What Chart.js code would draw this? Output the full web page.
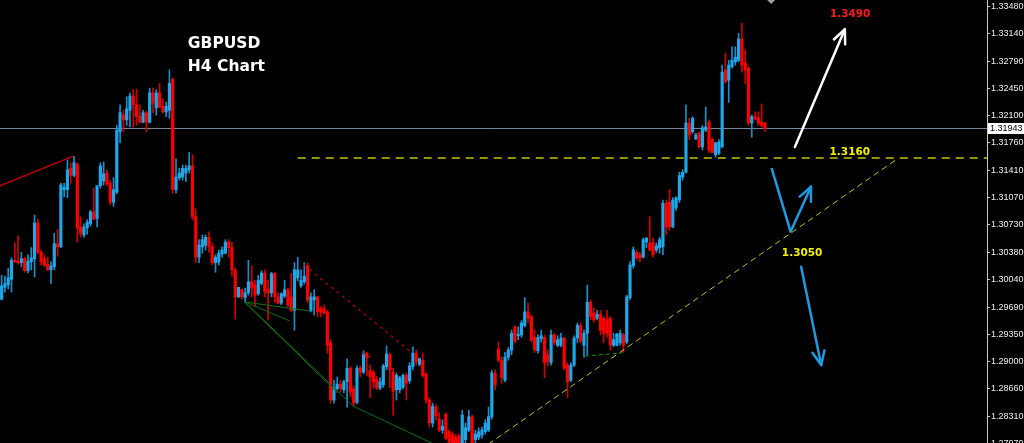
<!DOCTYPE html>
<html><head><meta charset="utf-8">
<script src="https://cdn.jsdelivr.net/npm/chart.js@4.4.1/dist/chart.umd.min.js"></script>
<style>
html,body{margin:0;padding:0;background:#000;overflow:hidden;width:1024px;height:443px}
#wrap{position:relative;width:1024px;height:450px}
</style></head><body><div id="wrap"><canvas id="c"></canvas></div>
<script>
// ---- GBPUSD H4 candles ----
const openP = [
1.2979,1.2994,1.2997,1.3004,1.3028,1.3027,1.3025,1.3030,1.3015,1.3026,
1.3030,1.3075,1.3038,1.3030,1.3023,1.3016,1.3020,1.3049,1.3045,1.3117,
1.3117,1.3144,1.3135,1.3149,1.3070,1.3060,1.3069,1.3074,1.3089,1.3081,
1.3122,1.3128,1.3138,1.3125,1.3101,1.3114,1.3190,1.3211,1.3205,1.3217,
1.3235,1.3224,1.3209,1.3202,1.3214,1.3202,1.3239,1.3220,1.3239,1.3222,
1.3215,1.3217,1.3256,1.3117,1.3132,1.3133,1.3138,1.3142,1.3147,1.3083,
1.3032,1.3045,1.3047,1.3057,1.3045,1.3025,1.3026,1.3036,1.3037,1.3051,
1.3044,1.3016,1.2982,1.2991,1.2981,1.2987,1.3001,1.2997,1.2986,1.2999,
1.3012,1.2992,1.2987,1.3012,1.2982,1.2974,1.2983,1.2991,1.2982,1.2965,
1.3006,1.2996,1.3001,1.3021,1.2965,1.2978,1.2982,1.2967,1.2967,1.2963,
1.2924,1.2852,1.2866,1.2872,1.2865,1.2875,1.2892,1.2866,1.2849,1.2892,
1.2887,1.2911,1.2889,1.2887,1.2878,1.2867,1.2871,1.2894,1.2909,1.2887,
1.2865,1.2865,1.2868,1.2883,1.2876,1.2894,1.2911,1.2897,1.2902,1.2885,
1.2852,1.2823,1.2843,1.2828,1.2814,1.2834,1.2812,1.2809,1.2805,1.2807,
1.2798,1.2802,1.2814,1.2831,1.2802,1.2805,1.2808,1.2812,1.2814,1.2831,
1.2886,1.2916,1.2902,1.2877,1.2906,1.2915,1.2944,1.2933,1.2934,1.2946,
1.2963,1.2957,1.2931,1.2914,1.2929,1.2931,1.2909,1.2899,1.2934,1.2921,
1.2921,1.2930,1.2896,1.2877,1.2896,1.2930,1.2946,1.2921,1.2936,1.2975,
1.2962,1.2955,1.2960,1.2955,1.2953,1.2955,1.2921,1.2921,1.2924,1.2934,
1.2925,1.2981,1.3021,1.3038,1.3035,1.3032,1.3051,1.3050,1.3050,1.3041,
1.3044,1.3045,1.3100,1.3101,1.3070,1.3094,1.3104,1.3133,1.3139,1.3201,
1.3190,1.3181,1.3188,1.3171,1.3192,1.3202,1.3180,1.3161,1.3163,1.3171,
1.3268,1.3255,1.3272,1.3278,1.3280,1.3307,1.3277,1.3270,1.3201,1.3209,
1.3207,1.3202,1.3201];
const highP = [
1.3009,1.3008,1.3018,1.3031,1.3050,1.3059,1.3038,1.3032,1.3035,1.3044,
1.3085,1.3080,1.3041,1.3035,1.3032,1.3026,1.3062,1.3067,1.3125,1.3125,
1.3154,1.3151,1.3159,1.3151,1.3083,1.3074,1.3079,1.3091,1.3119,1.3122,
1.3151,1.3152,1.3142,1.3129,1.3132,1.3198,1.3224,1.3217,1.3234,1.3239,
1.3243,1.3244,1.3224,1.3217,1.3216,1.3245,1.3245,1.3243,1.3251,1.3231,
1.3227,1.3268,1.3258,1.3156,1.3144,1.3148,1.3148,1.3164,1.3161,1.3093,
1.3054,1.3060,1.3060,1.3064,1.3050,1.3035,1.3041,1.3045,1.3054,1.3054,
1.3051,1.3018,1.2994,1.2992,1.2993,1.3028,1.3021,1.3003,1.3009,1.3015,
1.3016,1.3003,1.3013,1.3012,1.2987,1.2987,1.3003,1.2993,1.3012,1.3025,
1.3032,1.3016,1.3025,1.3025,1.2987,1.2991,1.2983,1.2970,1.2972,1.2965,
1.2928,1.2877,1.2881,1.2877,1.2877,1.2904,1.2894,1.2870,1.2895,1.2895,
1.2914,1.2912,1.2896,1.2890,1.2882,1.2880,1.2897,1.2920,1.2911,1.2892,
1.2886,1.2882,1.2885,1.2886,1.2899,1.2919,1.2915,1.2905,1.2911,1.2886,
1.2855,1.2848,1.2846,1.2836,1.2827,1.2836,1.2814,1.2812,1.2809,1.2809,
1.2839,1.2823,1.2839,1.2833,1.2814,1.2817,1.2818,1.2827,1.2843,1.2889,
1.2890,1.2925,1.2906,1.2912,1.2918,1.2940,1.2945,1.2944,1.2952,1.2981,
1.2974,1.2959,1.2940,1.2934,1.2940,1.2934,1.2915,1.2940,1.2936,1.2933,
1.2936,1.2931,1.2899,1.2899,1.2933,1.2949,1.2949,1.2940,1.2997,1.2978,
1.2968,1.2965,1.2965,1.2957,1.2965,1.2957,1.2936,1.2936,1.2940,1.2936,
1.2984,1.3026,1.3045,1.3041,1.3038,1.3056,1.3057,1.3083,1.3056,1.3050,
1.3057,1.3104,1.3104,1.3117,1.3107,1.3108,1.3139,1.3142,1.3224,1.3207,
1.3209,1.3188,1.3190,1.3198,1.3221,1.3205,1.3182,1.3177,1.3180,1.3274,
1.3289,1.3280,1.3297,1.3297,1.3314,1.3327,1.3293,1.3272,1.3211,1.3215,
1.3215,1.3225,1.3202];
const lowP = [
1.2978,1.2988,1.2992,1.2988,1.3025,1.3023,1.3020,1.3013,1.3012,1.3016,
1.3007,1.3036,1.3022,1.3020,1.3015,1.2999,1.3016,1.3033,1.3044,1.3108,
1.3107,1.3125,1.3133,1.3051,1.3057,1.3057,1.3061,1.3071,1.3079,1.3070,
1.3119,1.3123,1.3122,1.3098,1.3096,1.3112,1.3176,1.3190,1.3198,1.3196,
1.3196,1.3198,1.3201,1.3201,1.3190,1.3201,1.3214,1.3211,1.3220,1.3214,
1.3209,1.3207,1.3113,1.3113,1.3129,1.3129,1.3127,1.3138,1.3079,1.3025,
1.3025,1.3037,1.3041,1.3038,1.3022,1.3013,1.3022,1.3032,1.3036,1.3032,
1.3008,1.2954,1.2981,1.2979,1.2975,1.2984,1.2982,1.2970,1.2984,1.2997,
1.2982,1.2953,1.2982,1.2975,1.2973,1.2972,1.2981,1.2969,1.2963,1.2940,
1.3002,1.2994,1.2998,1.2975,1.2963,1.2959,1.2957,1.2957,1.2960,1.2911,
1.2848,1.2848,1.2865,1.2862,1.2861,1.2843,1.2856,1.2844,1.2847,1.2881,
1.2885,1.2883,1.2855,1.2867,1.2865,1.2865,1.2868,1.2890,1.2868,1.2833,
1.2852,1.2861,1.2866,1.2852,1.2873,1.2890,1.2896,1.2895,1.2881,1.2848,
1.2818,1.2818,1.2827,1.2812,1.2810,1.2802,1.2797,1.2793,1.2792,1.2790,
1.2793,1.2794,1.2812,1.2793,1.2797,1.2802,1.2804,1.2809,1.2812,1.2828,
1.2865,1.2900,1.2873,1.2875,1.2902,1.2909,1.2924,1.2928,1.2931,1.2944,
1.2949,1.2925,1.2912,1.2911,1.2925,1.2880,1.2895,1.2896,1.2921,1.2919,
1.2919,1.2890,1.2855,1.2875,1.2894,1.2924,1.2924,1.2906,1.2909,1.2953,
1.2950,1.2953,1.2934,1.2924,1.2931,1.2915,1.2919,1.2920,1.2921,1.2912,
1.2923,1.2978,1.3018,1.3028,1.3026,1.3031,1.3044,1.3040,1.3032,1.3038,
1.3037,1.3035,1.3060,1.3066,1.3069,1.3091,1.3101,1.3129,1.3138,1.3180,
1.3188,1.3180,1.3170,1.3167,1.3190,1.3164,1.3163,1.3158,1.3161,1.3170,
1.3251,1.3227,1.3270,1.3274,1.3278,1.3265,1.3251,1.3198,1.3183,1.3205,
1.3198,1.3196,1.3190];
const closeP = [
1.2996,1.2999,1.3006,1.3028,1.3026,1.3025,1.3030,1.3015,1.3027,1.3031,
1.3075,1.3038,1.3026,1.3022,1.3016,1.3021,1.3049,1.3045,1.3123,1.3120,
1.3142,1.3135,1.3151,1.3069,1.3062,1.3070,1.3076,1.3089,1.3080,1.3122,
1.3147,1.3137,1.3125,1.3101,1.3117,1.3192,1.3214,1.3205,1.3219,1.3235,
1.3224,1.3209,1.3202,1.3214,1.3202,1.3239,1.3226,1.3239,1.3221,1.3215,
1.3222,1.3251,1.3117,1.3133,1.3138,1.3144,1.3144,1.3147,1.3083,1.3032,
1.3047,1.3054,1.3057,1.3045,1.3025,1.3032,1.3037,1.3041,1.3051,1.3044,
1.3016,1.2982,1.2994,1.2982,1.2987,1.3001,1.2993,1.2984,1.3003,1.3012,
1.2988,1.2987,1.3011,1.2982,1.2974,1.2986,1.2991,1.2972,1.2965,1.3016,
1.3016,1.3003,1.3008,1.2978,1.2982,1.2982,1.2963,1.2963,1.2962,1.2921,
1.2852,1.2868,1.2872,1.2867,1.2875,1.2892,1.2862,1.2848,1.2892,1.2887,
1.2911,1.2905,1.2881,1.2875,1.2867,1.2875,1.2895,1.2910,1.2890,1.2863,
1.2883,1.2880,1.2883,1.2873,1.2895,1.2911,1.2900,1.2904,1.2883,1.2852,
1.2823,1.2844,1.2832,1.2814,1.2819,1.2804,1.2799,1.2798,1.2797,1.2795,
1.2833,1.2817,1.2831,1.2798,1.2809,1.2812,1.2814,1.2823,1.2831,1.2886,
1.2871,1.2902,1.2880,1.2906,1.2915,1.2936,1.2926,1.2935,1.2949,1.2963,
1.2955,1.2928,1.2915,1.2931,1.2933,1.2899,1.2901,1.2934,1.2924,1.2928,
1.2930,1.2892,1.2875,1.2896,1.2930,1.2946,1.2926,1.2936,1.2975,1.2957,
1.2953,1.2960,1.2940,1.2936,1.2936,1.2921,1.2928,1.2935,1.2936,1.2921,
1.2982,1.3022,1.3041,1.3031,1.3031,1.3054,1.3056,1.3041,1.3035,1.3046,
1.3054,1.3100,1.3070,1.3070,1.3104,1.3107,1.3135,1.3139,1.3201,1.3186,
1.3207,1.3186,1.3171,1.3195,1.3196,1.3167,1.3164,1.3176,1.3177,1.3265,
1.3253,1.3274,1.3280,1.3284,1.3307,1.3274,1.3268,1.3201,1.3209,1.3206,
1.3201,1.3198,1.3194];

// price axis labels (as printed on the right scale)
const priceTicks = [1.33480,1.33140,1.32790,1.32450,1.32100,1.31760,1.31410,1.31070,
  1.30730,1.30380,1.30040,1.29690,1.29350,1.29000,1.28660,1.28310,1.27970];
const lastPrice = 1.31943;
const TOTAL_SLOTS = 300;            // candle slots across the plot (empty on the right)
const Y_MIN = 1.2789, Y_MAX = 1.3356;

// ---- drawn objects, in (slot index, price) ----
const levelLine    = {from: 90, to: 300, price: 1.3157};
const trendLine    = [[145.4, 1.2789], [272.2, 1.31557]];
const redTrend     = [[-1.1, 1.3121], [21.8, 1.31594]];
const redDotted    = [[[91.9, 1.30221], [124.1, 1.29137]], [[109.5, 1.29112], [112.6, 1.29049]]];
const greenLines   = [
  [[74.0, 1.29755], [93.7, 1.29641]],
  [[74.0, 1.29755], [87.6, 1.29515]],
  [[74.0, 1.29755], [106.8, 1.28444], [133.2, 1.27928]],
  [[74.0, 1.29745], [102.2, 1.28608]]];
const greenDashed  = [[177.3, 1.29074], [188.6, 1.29112]];
const whiteArrow   = [[241.1, 1.31708], [256.3, 1.33191]];
const blueArrowUp  = [[234.1, 1.31431], [239.8, 1.30641], [246.0, 1.31208]];
const blueArrowDn  = [[243.0, 1.30200], [249.1, 1.28961]];
const marker       = [233.9, 1.33573];
const texts = [
  {t: 'GBPUSD',   at: [56.6, 1.32955],  color: '#ffffff', font: 'bold 15.5px "DejaVu Sans", Verdana, sans-serif', align: 'left'},
  {t: 'H4 Chart', at: [56.6, 1.32665],  color: '#ffffff', font: 'bold 15.5px "DejaVu Sans", Verdana, sans-serif', align: 'left'},
  {t: '1.3490',   at: [257.9, 1.33342], color: '#ff1a1a', font: 'bold 10.5px "DejaVu Sans", Verdana, sans-serif', align: 'center'},
  {t: '1.3160',   at: [257.8, 1.31607], color: '#f2f200', font: 'bold 10.5px "DejaVu Sans", Verdana, sans-serif', align: 'center'},
  {t: '1.3050',   at: [243.3, 1.30334], color: '#f2f200', font: 'bold 10.5px "DejaVu Sans", Verdana, sans-serif', align: 'center'}
];

const BULL = '#1ea8ea', BEAR = '#ff0000';
const BULL_W = '#1690cf', BEAR_W = '#d40000';

const slots = Array.from({length: TOTAL_SLOTS}, (_, i) => String(i));
const up = closeP.map((c, i) => c >= openP[i]);

const overlay = {
  id: 'overlay',
  beforeDatasetsDraw(chart) {
    const {ctx, chartArea: a, scales: {y}} = chart;
    const py = Math.round(y.getPixelForValue(lastPrice)) + 0.5;
    ctx.save();
    ctx.strokeStyle = '#76889a'; ctx.lineWidth = 1;
    ctx.beginPath(); ctx.moveTo(a.left, py); ctx.lineTo(a.right, py); ctx.stroke();
    ctx.restore();
  },
  afterDatasetsDraw(chart) {
    const {ctx, chartArea: a, scales: {x, y}} = chart;
    const P = p => [x.getPixelForValue(p[0]), y.getPixelForValue(p[1])];
    const poly = (pts, color, w, dash) => {
      ctx.strokeStyle = color; ctx.lineWidth = w; ctx.setLineDash(dash || []);
      ctx.beginPath();
      pts.map(P).forEach((q, i) => i ? ctx.lineTo(q[0], q[1]) : ctx.moveTo(q[0], q[1]));
      ctx.stroke(); ctx.setLineDash([]);
    };
    const arrow = (pts, color, w) => {
      ctx.lineCap = 'round'; ctx.lineJoin = 'round';
      poly(pts, color, w);
      const [x1, y1] = P(pts[pts.length - 2]), [x2, y2] = P(pts[pts.length - 1]);
      const ang = Math.atan2(y2 - y1, x2 - x1), L = 15, s = 0.42;
      ctx.beginPath();
      ctx.moveTo(x2 - L * Math.cos(ang - s), y2 - L * Math.sin(ang - s));
      ctx.lineTo(x2, y2);
      ctx.lineTo(x2 - L * Math.cos(ang + s), y2 - L * Math.sin(ang + s));
      ctx.stroke();
      ctx.lineCap = 'butt';
    };
    ctx.save();
    ctx.beginPath(); ctx.rect(a.left, a.top, a.right - a.left, a.bottom - a.top); ctx.clip();
    poly([[levelLine.from, levelLine.price], [levelLine.to, levelLine.price]], '#c4c400', 1.6, [8, 6]);
    poly(trendLine, '#c4c400', 1, [6, 4]);
    poly(redTrend, '#c80000', 1.3);
    redDotted.forEach(l => poly(l, '#b00000', 1.3, [3, 4]));
    greenLines.forEach(l => poly(l, '#0b700b', 1));
    poly(greenDashed, '#10960f', 1, [4, 3]);
    arrow(whiteArrow, '#ffffff', 2.5);
    arrow(blueArrowUp, '#1e9ae0', 2.5);
    arrow(blueArrowDn, '#1e9ae0', 2.5);
    const [mx, my] = P(marker);
    ctx.fillStyle = '#9aa0ab';
    ctx.beginPath(); ctx.moveTo(mx - 5, my); ctx.lineTo(mx, my - 5); ctx.lineTo(mx + 5, my); ctx.lineTo(mx, my + 5); ctx.closePath(); ctx.fill();
    texts.forEach(o => {
      const [tx, ty] = P(o.at);
      ctx.font = o.font; ctx.fillStyle = o.color; ctx.textAlign = o.align; ctx.textBaseline = 'alphabetic';
      ctx.fillText(o.t, tx, ty);
    });
    ctx.restore();
  },
  afterDraw(chart) {
    const {ctx, chartArea: a, scales: {y}} = chart;
    const py = y.getPixelForValue(lastPrice);
    ctx.save();
    ctx.fillStyle = '#ffffff';
    ctx.fillRect(a.right + 1, Math.round(py) - 5, 40, 11);
    ctx.fillStyle = '#000000';
    ctx.font = '9px "Liberation Sans", Arial, sans-serif';
    ctx.textAlign = 'left'; ctx.textBaseline = 'middle';
    ctx.fillText(lastPrice.toFixed(5), a.right + 3, Math.round(py) + 1);
    ctx.restore();
  }
};

new Chart(document.getElementById('c'), {
  type: 'bar',
  data: {
    labels: slots,
    datasets: [
      {label: 'body', data: openP.map((o, i) => [o, closeP[i]]),
       backgroundColor: up.map(u => u ? BULL : BEAR), barThickness: 2.5, minBarLength: 1,
       grouped: false, borderWidth: 0},
      {label: 'wick', data: lowP.map((l, i) => [l, highP[i]]),
       backgroundColor: up.map(u => u ? BULL_W : BEAR_W), barThickness: 1,
       grouped: false, borderWidth: 0}
    ]
  },
  options: {
    responsive: true, maintainAspectRatio: false, animation: false, devicePixelRatio: 1,
    layout: {padding: 0},
    plugins: {legend: {display: false}, tooltip: {enabled: false}},
    scales: {
      x: {type: 'category', display: false, offset: true, grid: {display: false}},
      y: {
        position: 'right', min: Y_MIN, max: Y_MAX,
        afterBuildTicks: s => { s.ticks = priceTicks.map(v => ({value: v})); },
        afterFit: s => { s.width = 37; s.paddingTop = 0; s.paddingBottom = 0; },
        ticks: {color: '#f0f0f0', autoSkip: false, padding: 1,
                font: {family: '"Liberation Sans", Arial, sans-serif', size: 9},
                callback: v => Number(v).toFixed(5)},
        grid: {drawOnChartArea: false, drawTicks: true, tickLength: 3, color: '#c8c8c8'},
        border: {display: true, color: '#c8c8c8'}
      }
    }
  },
  plugins: [overlay]
});
</script>
</body></html>
